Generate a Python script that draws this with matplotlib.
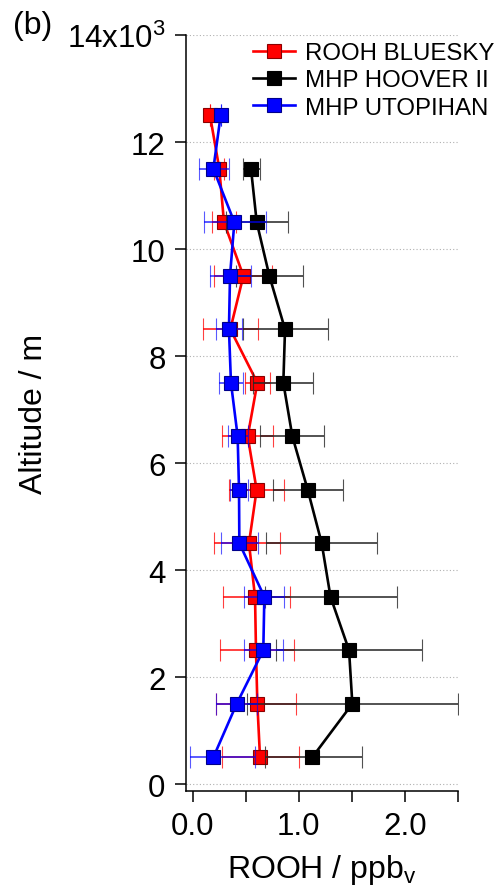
import matplotlib
matplotlib.use('Agg')
import matplotlib.pyplot as plt
import numpy as np

plt.rcParams['font.family'] = ['Liberation Sans', 'DejaVu Sans']
plt.rcParams['mathtext.fontset'] = 'custom'
plt.rcParams['mathtext.rm'] = 'Liberation Sans'
plt.rcParams['mathtext.it'] = 'Liberation Sans:italic'

# altitudes (m)
alt = [500, 1500, 2500, 3500, 4500, 5500, 6500, 7500, 8500, 9500, 10500, 11500, 12500]
alt_hoover = alt[:-1]

# ROOH BLUESKY (ppbv) with low / high ends of the error bars
rooh = [0.635, 0.61, 0.597, 0.588, 0.531, 0.603, 0.519, 0.61, 0.355, 0.478, 0.295, 0.251, 0.163]
rooh_lo = [0.28, 0.22, 0.258, 0.283, 0.204, 0.345, 0.28, 0.49, 0.10, 0.204, 0.179, 0.20, 0.163]
rooh_hi = [1.00, 0.975, 0.959, 0.918, 0.824, 0.861, 0.758, 0.73, 0.613, 0.75, 0.41, 0.30, 0.163]

# MHP HOOVER II
hoover = [1.128, 1.506, 1.475, 1.30, 1.217, 1.085, 0.94, 0.855, 0.871, 0.723, 0.604, 0.55]
hoover_lo = [0.68, 0.509, 0.786, 0.68, 0.695, 0.761, 0.635, 0.572, 0.47, 0.41, 0.31, 0.478]
hoover_hi = [1.594, 2.506, 2.163, 1.924, 1.742, 1.421, 1.242, 1.138, 1.273, 1.038, 0.896, 0.635]

# MHP UTOPIHAN
utop = [0.195, 0.415, 0.666, 0.676, 0.44, 0.437, 0.424, 0.361, 0.342, 0.352, 0.393, 0.195, 0.264]
utop_lo = [-0.025, 0.22, 0.48, 0.484, 0.264, 0.352, 0.33, 0.248, 0.22, 0.165, 0.107, 0.062, 0.264]
utop_hi = [0.59, 0.61, 0.852, 0.865, 0.62, 0.525, 0.52, 0.478, 0.462, 0.547, 0.692, 0.34, 0.264]

labels = ['ROOH BLUESKY', 'MHP HOOVER II', 'MHP UTOPIHAN']
yticks = [0, 2000, 4000, 6000, 8000, 10000, 12000, 14000]
ytick_labels = ['0', '2', '4', '6', '8', '10', '12', '14x10$^{3}$']
xticks = [0, 0.5, 1.0, 1.5, 2.0, 2.5]
xtick_labels = ['0.0', '', '1.0', '', '2.0', '']


def err(v, lo, hi):
    v = np.array(v)
    return [v - np.array(lo), np.array(hi) - v]


fig = plt.figure(figsize=(4.96, 8.87), dpi=100)
ax = fig.add_axes([0.3744, 0.1074, 0.5484, 0.852])

series = [
    (rooh, alt, rooh_lo, rooh_hi, '#ff0000', '#8b0000', (1, 0, 0, 0.75)),
    (hoover, alt_hoover, hoover_lo, hoover_hi, '#000000', '#000000', (0.15, 0.15, 0.15, 0.8)),
    (utop, alt, utop_lo, utop_hi, '#0000ff', '#00008b', (0, 0, 1, 0.65)),
]
handles = []
for i, (x, y, lo, hi, c, ec, errc) in enumerate(series):
    cont = ax.errorbar(x, y, xerr=err(x, lo, hi), color=c, lw=1.9, marker='s', ms=9.5,
                       mfc=c, mec=ec, mew=0.8, ecolor=errc, elinewidth=1.4,
                       capsize=8, capthick=1.4, zorder=3 + i)
    handles.append(cont[0])

ax.set_xlim(-0.066, 2.5)
ax.set_ylim(-125, 14000)
ax.set_yticks(yticks)
ax.set_yticklabels(ytick_labels)
ax.set_xticks(xticks)
ax.set_xticklabels(xtick_labels)
ax.tick_params(direction='out', length=8, width=1.1, labelsize=22.5, pad=6.5)

ax.spines['top'].set_visible(False)
ax.spines['right'].set_visible(False)
ax.spines['left'].set_linewidth(1.1)
ax.spines['bottom'].set_linewidth(1.1)

ax.yaxis.grid(True, linestyle=(0, (1, 2)), color='#b0b0b0', lw=0.8)
ax.set_axisbelow(True)

ax.set_ylabel('Altitude / m', fontsize=23, labelpad=13)
ax.set_xlabel('ROOH / ppb$_\\mathrm{v}$', fontsize=23, labelpad=8)

ax.legend(handles, labels, loc='upper left', bbox_to_anchor=(0.228, 0.997), frameon=False,
          fontsize=17.3, handlelength=1.75, handletextpad=0.42, labelspacing=0.22,
          borderaxespad=0.0, borderpad=0.2)

fig.text(0.065, 0.971, '(b)', fontsize=23, ha='center', va='center')

fig.savefig('out.png', dpi=100)
